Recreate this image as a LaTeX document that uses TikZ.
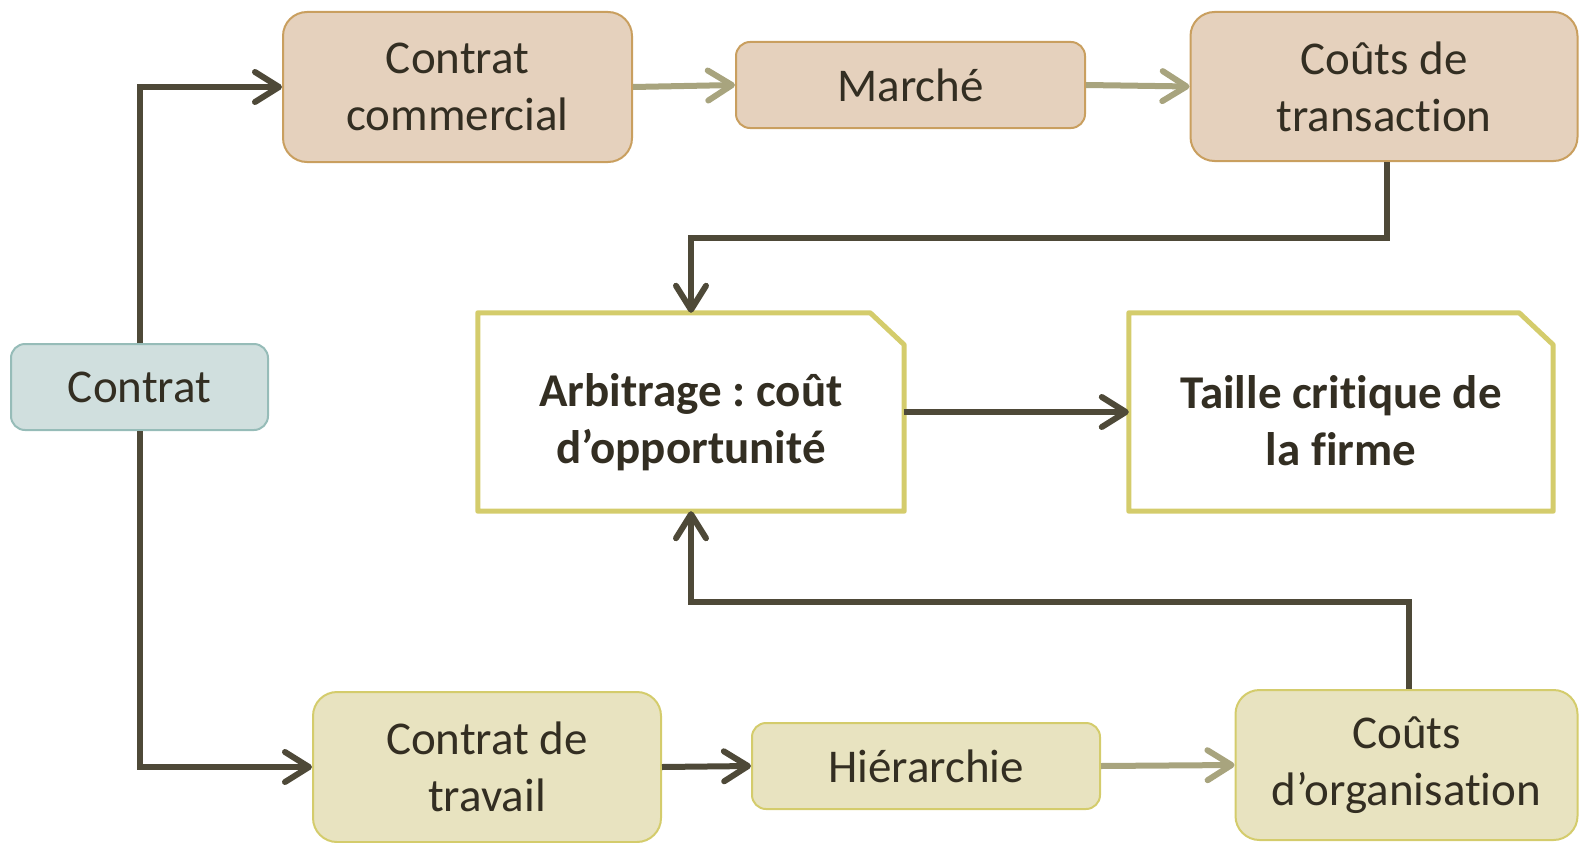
\documentclass[tikz,border=0pt]{standalone}
\usepackage{fontspec}
\setmainfont[Ligatures={NoCommon,NoContextual},Contextuals=NoAlternate]{Carlito}
\usetikzlibrary{arrows.meta}
\frenchspacing
\newcommand\nolig{\kern0pt }
\definecolor{darkline}{HTML}{4E4938}
\definecolor{lightline}{HTML}{A8A47E}
\definecolor{txt}{HTML}{332E22}
\definecolor{tanfill}{HTML}{E5D1BD}
\definecolor{tanborder}{HTML}{C99F5F}
\definecolor{tealfill}{HTML}{D0DFDE}
\definecolor{tealborder}{HTML}{96BCB8}
\definecolor{yelfill}{HTML}{E8E3C0}
\definecolor{yelborder}{HTML}{D4CC6C}
\tikzset{
  box/.style={rectangle, rounded corners=24pt, line width=2pt, align=center, text=txt,
    font=\fontsize{47}{57}\selectfont, inner sep=0pt},
  smallbox/.style={box, rounded corners=14pt},
  tanbox/.style={fill=tanfill, draw=tanborder},
  tealbox/.style={fill=tealfill, draw=tealborder},
  yelbox/.style={fill=yelfill, draw=yelborder},
  notebox/.style={rectangle, inner sep=0pt},
  notetext/.style={align=center, text=txt, inner sep=0pt,
    font=\fontsize{47}{57}\selectfont\bfseries},
  noteborder/.style={draw=yelborder, line width=5pt, line join=round},
  tip/.style={-{Straight Barb[length=24pt,width=30pt,round]}},
  darkarrow/.style={tip, draw=darkline, line width=6pt},
  lightarrow/.style={tip, draw=lightline, line width=6pt},
}
\begin{document}
\begin{tikzpicture}[x=1pt,y=-1pt]
\useasboundingbox (0,0) rectangle (1579,843);
% nodes
\node[box, tanbox, minimum width=349pt, minimum height=150pt] (cc) at (457.5,87) {Contrat\\commercial};
\node[smallbox, tanbox, minimum width=349pt, minimum height=86pt] (marche) at (910.5,85) {Marché};
\node[box, tanbox, minimum width=387pt, minimum height=149pt] (ctr) at (1384,86.5) {Coûts de\\transact\nolig ion};
\node[smallbox, tealbox, minimum width=257pt, minimum height=86pt] (contrat) at (139.5,387) {Contrat};
\node[box, yelbox, minimum width=348pt, minimum height=150pt] (ct) at (487,767) {Contrat de\\travail};
\node[smallbox, yelbox, minimum width=348pt, minimum height=86pt] (hier) at (926,766) {Hiérarchie};
\node[box, yelbox, minimum width=342pt, minimum height=150pt] (co) at (1406.5,765) {Coûts\\d’organisat\nolig ion};
\node[notebox, minimum width=426pt, minimum height=198pt] (arb) at (691,412) {};
\node[notebox, minimum width=424pt, minimum height=198pt] (taille) at (1341,412) {};
\node[notetext] (arbtext) at ([yshift=-10pt]arb.center) {Arbitrage : coût\\d’opportunité};
\node[notetext] (tailletext) at ([yshift=-9pt]taille.center) {Taille crit\nolig ique de\\la firme};
\draw[noteborder] (arb.south west) -- (arb.north west) -- ([xshift=-34pt]arb.north east)
  -- ([yshift=-32pt]arb.north east) -- (arb.south east) -- cycle;
\draw[noteborder] (taille.south west) -- (taille.north west) -- ([xshift=-34pt]taille.north east)
  -- ([yshift=-32pt]taille.north east) -- (taille.south east) -- cycle;
% helper coordinates
\coordinate (bendtop) at (0,238);
\coordinate (bendbot) at (0,602);
% connectors
\draw[darkarrow] (contrat.north) |- (cc.west);
\draw[darkarrow] (contrat.south) |- (ct.west);
\draw[lightarrow] (cc.east) -- (marche.west);
\draw[lightarrow] (marche.east) -- (ctr.west);
\draw[darkarrow] ([xshift=3pt]ctr.south) -- ([xshift=3pt]ctr.south |- bendtop) -| (arb.north);
\draw[darkarrow] (arb.east) -- (taille.west);
\draw[darkarrow] (ct.east) -- (hier.west);
\draw[lightarrow] (hier.east) -- (co.west);
\draw[darkarrow] ([xshift=2pt]co.north) -- ([xshift=2pt]co.north |- bendbot) -| (arb.south);
\end{tikzpicture}
\end{document}
